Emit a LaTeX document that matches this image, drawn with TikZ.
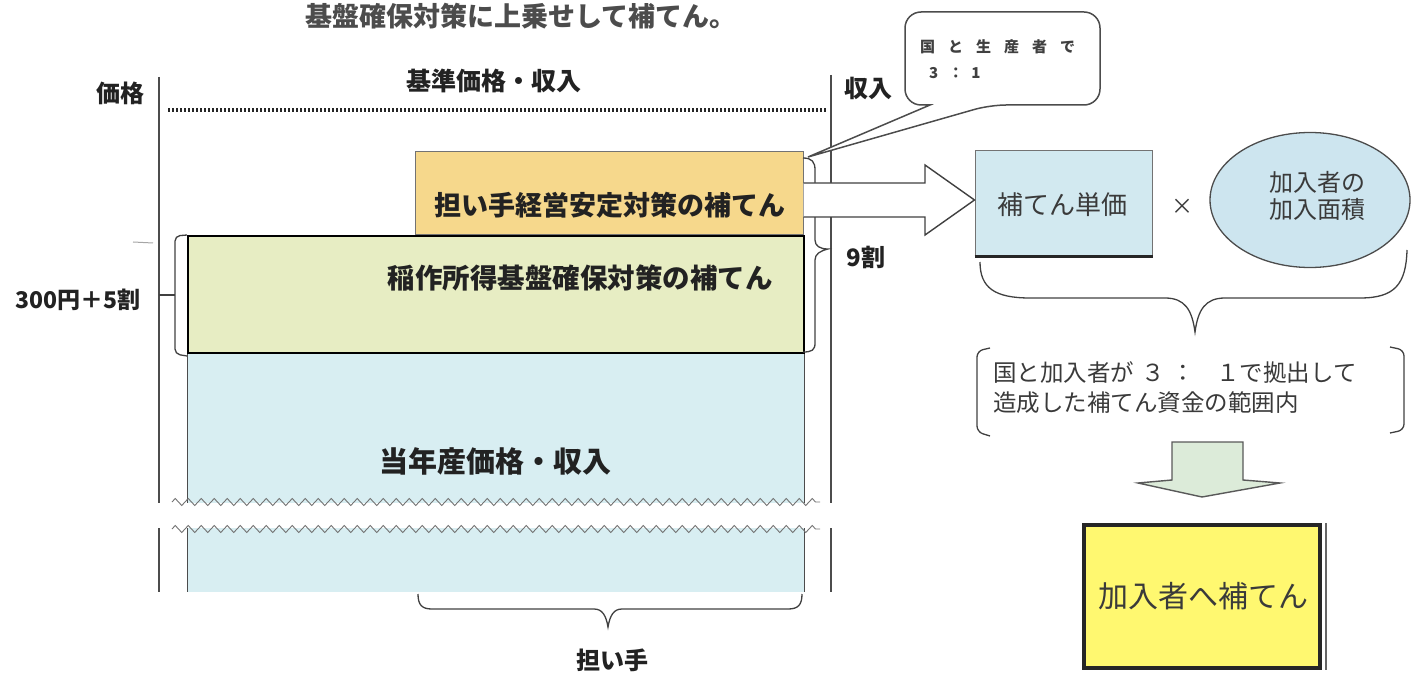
\documentclass[tikz,border=0pt]{standalone}
\usepackage{fontspec}
\setmainfont{Noto Sans CJK JP}
\usetikzlibrary{decorations.pathmorphing,shapes.geometric,calc}
\definecolor{yellowbox}{HTML}{F6D88C}
\definecolor{greenbox}{HTML}{E7EDC3}
\definecolor{bluebox}{HTML}{D8EEF2}
\definecolor{unitbox}{HTML}{D2E9F0}
\definecolor{areafill}{HTML}{CDE5EF}
\definecolor{downfill}{HTML}{DCEBD9}
\definecolor{finalfill}{HTML}{FFF870}
\definecolor{ink}{HTML}{222222}
\definecolor{softink}{HTML}{3A3A3A}
\newcommand{\gp}{\hspace{13pt}}
\begin{document}
\begin{tikzpicture}[x=1pt,y=-1pt,
  txt/.style={inner sep=0pt, text=ink},
  btxt/.style={inner sep=0pt, text=ink, font=\bfseries},
  plainbox/.style={rectangle, inner sep=0pt},
  thinline/.style={draw=black!70, line width=1.2pt},
  hollow/.style={draw=black!75, line width=1.4pt, fill=white, line join=miter},
  bracestyle/.style={draw=black!75, line width=1.3pt},
]
\useasboundingbox (0,0) rectangle (1421,676);

% ---------- left chart boxes ----------
\node[plainbox, fill=bluebox, minimum width=616, minimum height=239] (cur) at (496,472.5) {};
\draw[thinline] (cur.north west) -- (cur.south west);
\draw[thinline] (cur.north east) -- (cur.south east);

\node[plainbox, fill=yellowbox, draw=black!55, line width=1pt, minimum width=388, minimum height=83] (tan) at (609,193.5) {};
\node[plainbox, fill=greenbox, draw=black, line width=2.6pt, minimum width=616, minimum height=117] (ine) at (496,294.5) {};

\node[btxt, font={\fontsize{27}{30}\selectfont\bfseries}] (tantxt) at (610,205) {担い手経営安定対策の補てん};
\node[btxt, font={\fontsize{27.5}{30}\selectfont\bfseries}] (inetxt) at (580,278) {稲作所得基盤確保対策の補てん};
\node[btxt, font={\fontsize{29}{32}\selectfont\bfseries}] (curtxt) at (495,461) {当年産価格・収入};

% axes
\coordinate (ltop) at (159,77);
\coordinate (lbot) at (159,592);
\coordinate (rtop) at (831,75);
\coordinate (rbot) at (831,592);
\draw[thinline] (ltop) -- (lbot);
\draw[thinline] (rtop) -- (rbot);

% break band
\fill[white] (148,503) rectangle (845,528);
\draw[black!55, line width=0.9pt, decorate, decoration={zigzag, segment length=13pt, amplitude=3.5pt}] (172,502) -- (820,502);
\draw[black!55, line width=0.9pt, decorate, decoration={zigzag, segment length=13pt, amplitude=3.5pt}] (172,529) -- (820,529);

% dotted reference line
\coordinate (dotL) at (168,110);
\coordinate (dotR) at (826,110);
\draw[black!85, line width=3.2pt, dash pattern=on 2pt off 2pt] (dotL) -- (dotR);

% axis labels
\node[btxt, font={\fontsize{24}{28}\selectfont\bfseries}] (kakaku) at (120,93) {価格};
\node[btxt, font={\fontsize{25}{28}\selectfont\bfseries}] (kijun) at (494,81) {基準価格・収入};
\node[btxt, font={\fontsize{24}{28}\selectfont\bfseries}] (shunyu) at (868,88) {収入};

% left bracket 300円+5割
\draw[bracestyle, rounded corners=5pt] (187,235) -- (175,236) -- (175,354) -- (187,356);
\draw[bracestyle] (159,295) -- (175,295);
\draw[black!35, line width=1pt] (133,242) -- (153,243);
\node[btxt, font={\fontsize{23}{28}\selectfont\bfseries}] (sanbyaku) at (78,300) {300円＋5割};

% right brace 9割
\draw[bracestyle] (803,158) .. controls (812,158) and (815,162) .. (815,170) -- (815,240)
  .. controls (815,246) and (820,249) .. (828,249)
  .. controls (820,251) and (815,254) .. (815,260) -- (815,343)
  .. controls (815,350) and (812,352) .. (803,352);
\node[btxt, font={\fontsize{24}{28}\selectfont\bfseries}] (kyuwari) at (866,257) {9割};

% bottom brace 担い手
\draw[bracestyle] (418,594) .. controls (418,605) and (422,609) .. (432,609) -- (594,609)
  .. controls (602,609) and (606,615) .. (608,627)
  .. controls (610,615) and (614,609) .. (622,609) -- (788,609)
  .. controls (798,609) and (802,605) .. (802,594);
\node[btxt, font={\fontsize{24}{28}\selectfont\bfseries}] (ninaite) at (612,660) {担い手};

% title (at top edge)
\node[btxt, font={\fontsize{27}{30}\selectfont\bfseries}, text=black!70] (title) at (521,16) {基盤確保対策に上乗せして補てん。};

% callout
\draw[draw=black!70, line width=1.5pt, fill=white] (1000,12) [rounded corners=16pt] -- (1100,12) -- (1100,105) -- (990,105) [sharp corners] -- (808,157) -- (930,105) [rounded corners=16pt] -- (905,105) -- (905,12) -- cycle;
\node[txt, anchor=west, text=black!75, font={\fontsize{15}{18}\selectfont\bfseries}] (call1) at (920,47) {国\gp と\gp 生\gp 産\gp 者\gp で};
\node[txt, anchor=west, text=black!75, font={\fontsize{15}{18}\selectfont\bfseries}] (call2) at (929,73) {3\hspace{10pt}：\hspace{8pt}1};

% ---------- right side ----------
\node[plainbox, fill=unitbox, draw=black!55, line width=1pt, minimum width=177, minimum height=105] (unit) at (1063.5,203.5) {};
\draw[black!85, line width=2.6pt] (unit.south west) -- (unit.south east);
\node[txt, text=softink, font={\fontsize{26}{28}\selectfont}] (unittxt) at (1062,205) {補てん単価};

% hollow arrow from yellow box to unit box
\draw[hollow] (tan.east |- 0,183) -- (925,183) -- (925,165) -- (unit.west |- 0,200) -- (925,235) -- (925,217) -- (tan.east |- 0,217);

\node[txt, text=softink, font={\fontsize{22}{24}\selectfont}] (times) at (1182,207) {×};

\node[ellipse, draw=black!70, line width=1.3pt, fill=areafill, minimum width=200, minimum height=135, inner sep=0pt] (area) at (1310,200) {};
\node[txt, text=softink, align=center, font={\fontsize{24}{27}\selectfont}] (areatxt) at (1317,196) {加入者の\\加入面積};

% big brace under both
\draw[bracestyle] (980,262) .. controls (980,288) and (995,298) .. (1030,298) -- (1165,298)
  .. controls (1185,298) and (1192,310) .. (1195,332)
  .. controls (1198,310) and (1205,298) .. (1225,298) -- (1360,298)
  .. controls (1395,298) and (1406,284) .. (1407,250);

% bracketed text
\draw[bracestyle, rounded corners=6pt] (990,348) -- (977,351) -- (977,432) -- (990,436);
\draw[bracestyle, rounded corners=6pt] (1390,347) -- (1404,350) -- (1404,430) -- (1390,433);
\node[txt, anchor=west, text=softink, font={\fontsize{23.5}{26}\selectfont}] (fund1) at (993,373) {国と加入者が\hspace{0.3em}３\hspace{0.3em}：\hspace{0.9em}１で拠出して};
\node[txt, anchor=west, text=softink, font={\fontsize{23.5}{26}\selectfont}] (fund2) at (993,403) {造成した補てん資金の範囲内};

% final box
\node[plainbox, fill=finalfill, draw=black!85, line width=4pt, minimum width=236, minimum height=143] (fin) at (1202,596.5) {};
\draw[black!60, line width=1.3pt] (1326,523) -- (1326,670);
\node[txt, text=softink, font={\fontsize{30}{32}\selectfont}] (fintxt) at (1203,596) {加入者へ補てん};

% down arrow from bracket text to final box
\draw[hollow, fill=downfill, draw=black!65] (1172,442) -- (1243,442) -- (1243,480) -- (1280,483) -- (fin.north |- 0,497) -- (1138,483) -- (1172,480) -- cycle;

\end{tikzpicture}
\end{document}
